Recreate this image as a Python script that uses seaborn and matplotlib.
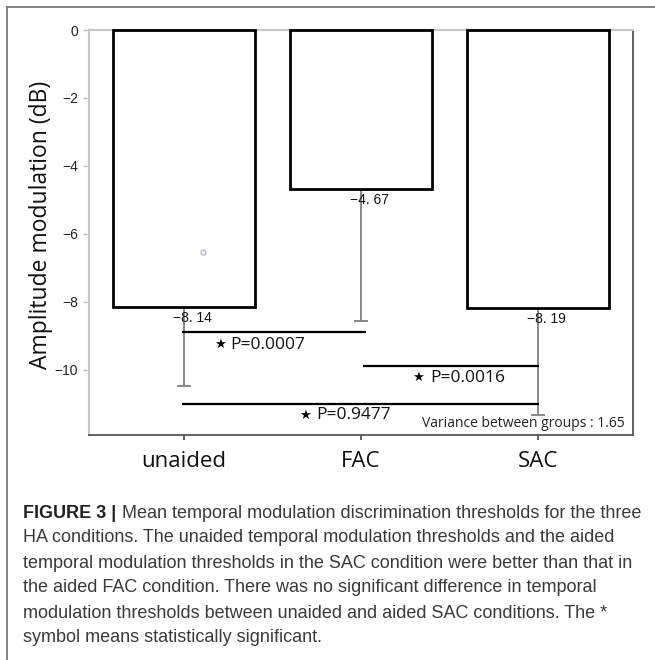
import matplotlib
matplotlib.use("Agg")
import matplotlib.pyplot as plt
import seaborn as sns
import numpy as np
from matplotlib.lines import Line2D

# ---- data ----
categories = ["unaided", "FAC", "SAC"]
means = [-8.14, -4.67, -8.19]
lower_err = [2.33, 3.89, 3.13]          # extent of error bar below each bar
value_labels = ["\u22128. 14", "\u22124. 67", "\u22128. 19"]
outlier_x = [0.11]
outlier_y = [-6.54]
comparisons = [(0, 1, -8.88, "P=0.0007"), (1, 2, -9.88, "P=0.0016"), (0, 2, -11.0, "P=0.9477")]
yticks = [0, -2, -4, -6, -8, -10]
variance_text = "Variance between groups : 1.65"
caption_lines = [
    "Mean temporal modulation discrimination thresholds for the three",
    "HA conditions. The unaided temporal modulation thresholds and the aided",
    "temporal modulation thresholds in the SAC condition were better than that in",
    "the aided FAC condition. There was no significant difference in temporal",
    "modulation thresholds between unaided and aided SAC conditions. The *",
    "symbol means statistically significant.",
]

sns.set_theme(style="white")
plt.rcParams["font.family"] = ["DejaVu Sans"]

W, H = 655, 660
fig = plt.figure(figsize=(W / 100, H / 100), dpi=100)
ax = fig.add_axes([89 / W, 1 - 435 / H, (633 - 89) / W, (435 - 30) / H])

sns.barplot(x=categories, y=means, color="white", edgecolor="black", linewidth=2.0,
            width=0.8, errorbar=None, ax=ax, saturation=1)
for p in ax.patches:
    p.set_facecolor("white")
    p.set_clip_on(False)
    p.set_zorder(3)

xpos = np.arange(len(categories))
ax.errorbar(xpos, means, yerr=[lower_err, [0] * 3], fmt="none", ecolor="#808080",
            elinewidth=1.3, capsize=5, capthick=1.3, zorder=1)

ax.plot(outlier_x, outlier_y, "o", mfc="none", mec="#b8b8c8", ms=3.5, mew=1, zorder=4)

for x, v, lab in zip(xpos, means, value_labels):
    ax.text(x + 0.05, v - 0.33, lab, ha="center", va="center", fontsize=10,
            family="Liberation Sans", color="#111111", zorder=5)

for i, (a, b, y, txt) in enumerate(comparisons):
    x0 = a - 0.01
    x1 = b + (0.03 if i == 0 else 0.005)
    if i == 1:
        x0 = a + 0.01
    ax.plot([x0, x1], [y, y], color="black", lw=1.6, solid_capstyle="butt", zorder=4)

star_kw = dict(fontsize=9.5, ha="center", va="center", color="black")
p_kw = dict(fontsize=12.5, family="Open Sans", ha="left", va="center", color="#111111")
ax.text(0.205, -9.26, "\u2605", **star_kw)
ax.text(0.26, -9.26, comparisons[0][3], **p_kw)
ax.text(1.325, -10.23, "\u2605", **star_kw)
ax.text(1.39, -10.23, comparisons[1][3], **p_kw)
ax.text(0.685, -11.33, "\u2605", **star_kw)
ax.text(0.745, -11.33, comparisons[2][3], **p_kw)
ax.text(2.49, -11.57, variance_text, fontsize=10, family="Open Sans", ha="right", va="center",
        color="#222222")

ax.set_xlim(-0.537, 2.537)
ax.set_ylim(-11.92, 0)
ax.set_yticks(yticks)
ax.set_yticklabels(["0" if t == 0 else "\u2212%d" % abs(t) for t in yticks],
                   family="Liberation Sans", fontsize=10, color="#222222")
ax.set_xticks(xpos)
ax.set_xticklabels(categories, family="Open Sans", fontsize=16, color="#111111")
ax.tick_params(axis="y", length=4, width=1, color="#c0c0c0", pad=4, left=True)
ax.tick_params(axis="x", length=3.5, width=1.2, color="#444444", pad=8, bottom=True)
ax.set_xlabel("")
ax.set_ylabel("Amplitude modulation (dB)", family="Open Sans", fontsize=16.5,
              color="#111111")
ax.yaxis.set_label_coords(-0.066, 0.52)

for side in ["left", "top"]:
    ax.spines[side].set_color("#c8c8c8")
    ax.spines[side].set_linewidth(1.5)
for side in ["right", "bottom"]:
    ax.spines[side].set_color("#555555")
    ax.spines[side].set_linewidth(1.3)
ax.grid(False)

# frame lines of the figure panel
fig.add_artist(Line2D([7 / W, 1], [1 - 6.5 / H, 1 - 6.5 / H], color="#777777", lw=1.3))
fig.add_artist(Line2D([7 / W, 7 / W], [0, 1 - 6.5 / H], color="#777777", lw=1.3))

# caption
cap_y = [513, 538, 563, 587, 613, 637]
cap_font = "Liberation Sans"
cap_size = 13
fig.canvas.draw()
r = fig.canvas.get_renderer()
bold = fig.text(23 / W, 1 - cap_y[0] / H, "FIGURE 3 |", fontsize=cap_size, family=cap_font,
                weight="bold", color="#222222", va="center", ha="left")
bb = bold.get_window_extent(r)
fig.text((bb.x1 + 6) / W, 1 - cap_y[0] / H, caption_lines[0], fontsize=cap_size,
         family=cap_font, color="#3a3a3a", va="center", ha="left")
for yy, line in zip(cap_y[1:], caption_lines[1:]):
    fig.text(23 / W, 1 - yy / H, line, fontsize=cap_size, family=cap_font, color="#3a3a3a",
             va="center", ha="left")

fig.savefig("out.png", dpi=100)
